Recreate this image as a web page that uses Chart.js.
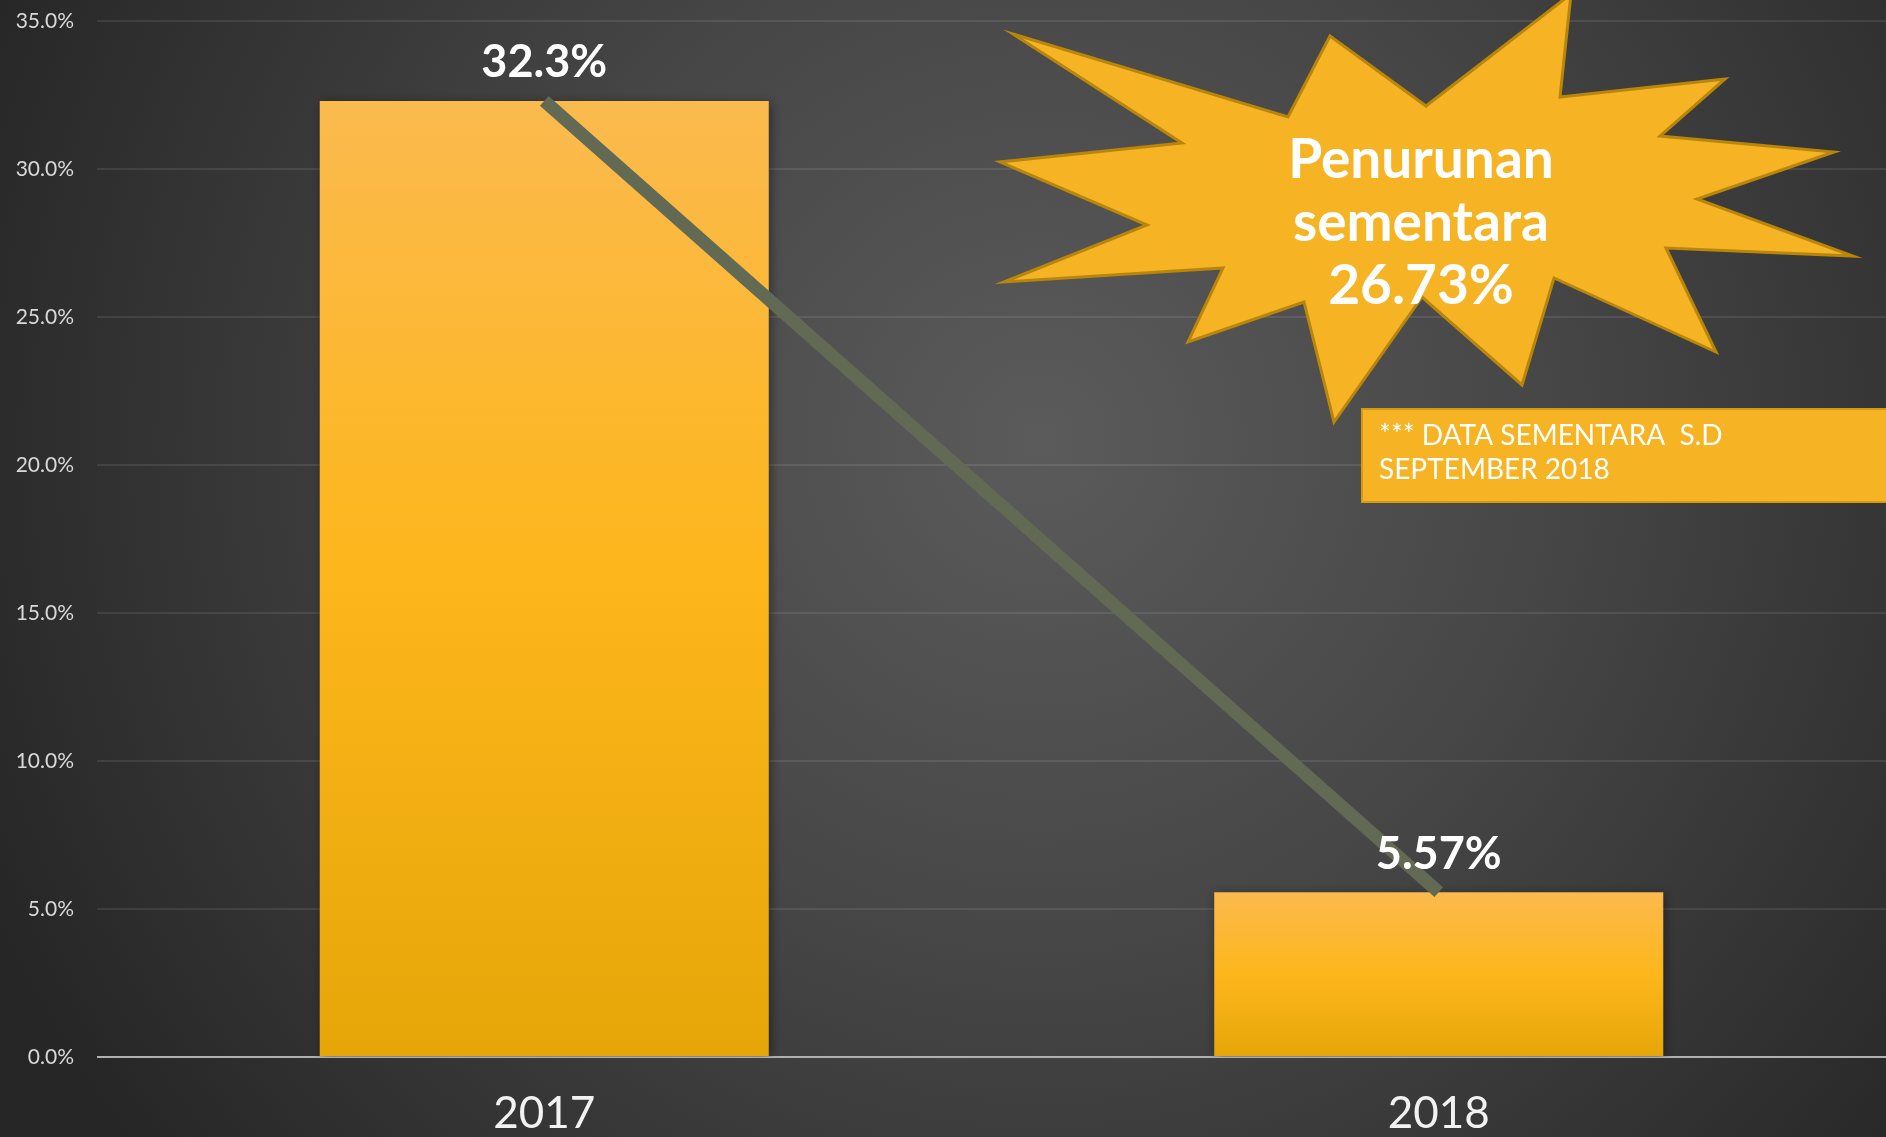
<!DOCTYPE html>
<html>
<head>
<meta charset="utf-8">
<script src="https://cdn.jsdelivr.net/npm/chart.js@4.4.1/dist/chart.umd.min.js"></script>
<style>
  html, body { margin: 0; padding: 0; background: #2b2b2b; overflow: hidden; }
  canvas { display: block; }
</style>
</head>
<body>
<canvas id="grafico" width="1886" height="1137"></canvas>
<script>
// Datos del grafico
const categorias = ["2017", "2018"];
const porcentajes = [32.3, 5.57];
const etiquetasBarra = ["32.3%", "5.57%"];
const ticksY = [0, 5, 10, 15, 20, 25, 30, 35];

// Textos de las anotaciones
const textoEstrella = ["Penurunan", "sementara", "26.73%"];
const textoNota = ["*** DATA SEMENTARA  S.D", "SEPTEMBER 2018"];

const fuente = "Lato, 'Open Sans', sans-serif";

//Fondo oscuro con degradado radial
const fondoPlugin = {
  id: "fondo",
  beforeDraw(chart) {
    const { ctx, width, height } = chart;
    const g = ctx.createRadialGradient(1040, 440, 0, 1040, 440, 1150);
    g.addColorStop(0, "#5b5b5b");
    g.addColorStop(0.45, "#464646");
    g.addColorStop(1, "#262626");
    ctx.save();
    ctx.fillStyle = g;
    ctx.fillRect(0, 0, width, height);
    ctx.restore();
  },
};

//Sombra suave de las barras
const sombraPlugin = {
  id: "sombra",
  beforeDatasetDraw(chart, args) {
    if (chart.data.datasets[args.index].type !== "bar") return;
    const ctx = chart.ctx;
    ctx.save();
    ctx.shadowColor = "rgba(0,0,0,0.4)";
    ctx.shadowBlur = 10;
    ctx.shadowOffsetX = 2;
    ctx.shadowOffsetY = 2;
  },
  afterDatasetDraw(chart, args) {
    if (chart.data.datasets[args.index].type !== "bar") return;
    chart.ctx.restore();
  },
};

//Etiquetas encima de cada barra
const etiquetasPlugin = {
  id: "etiquetas",
  afterDatasetsDraw(chart) {
    const idx = chart.data.datasets.findIndex((d) => d.type === "bar");
    const meta = chart.getDatasetMeta(idx);
    const ctx = chart.ctx;
    ctx.save();
    ctx.fillStyle = "#ffffff";
    ctx.font = "bold 45px " + fuente;
    ctx.textAlign = "center";
    ctx.textBaseline = "middle";
    meta.data.forEach((bar, i) => {
      ctx.fillText(etiquetasBarra[i], bar.x, bar.y - 38);
    });
    ctx.restore();
  },
};

//Estrella y nota
const estrella = [
  [1013, 34], [1288, 117], [1330, 36], [1426, 106], [1571, -6], [1560, 97],
  [1725, 79], [1660, 136], [1834, 152], [1697, 199], [1853, 256], [1666, 248],
  [1716, 352], [1554, 278], [1522, 385], [1422, 297], [1334, 422], [1304, 302],
  [1188, 342], [1223, 268], [1004, 282], [1147, 225], [1000, 162], [1182, 143],
];

const anotacionesPlugin = {
  id: "anotaciones",
  afterDraw(chart) {
    const ctx = chart.ctx;
    ctx.save();
    ctx.beginPath();
    estrella.forEach(([x, y], i) => (i === 0 ? ctx.moveTo(x, y) : ctx.lineTo(x, y)));
    ctx.closePath();
    ctx.fillStyle = "#F6B324";
    ctx.fill();
    ctx.lineWidth = 3;
    ctx.strokeStyle = "#B8860B";
    ctx.lineJoin = "miter";
    ctx.stroke();

    ctx.fillStyle = "#ffffff";
    ctx.font = "bold 55px " + fuente;
    ctx.textAlign = "center";
    ctx.textBaseline = "middle";
    textoEstrella.forEach((t, i) => ctx.fillText(t, 1421, 160 + i * 63));

    // caja de nota
    ctx.fillStyle = "#F6B324";
    ctx.fillRect(1362, 409, 530, 93);
    ctx.lineWidth = 2;
    ctx.strokeStyle = "#D49A12";
    ctx.strokeRect(1362, 409, 530, 93);
    ctx.fillStyle = "#ffffff";
    ctx.font = "28px " + fuente;
    ctx.textAlign = "left";
    textoNota.forEach((t, i) => ctx.fillText(t, 1379, 436 + i * 34));
    ctx.restore();
  },
};

function degradadoBarra(context) {
  const chart = context.chart;
  if (!chart.chartArea) return "#FDB71A";
  const y = chart.scales.y;
  const top = y.getPixelForValue(context.raw);
  const bottom = y.getPixelForValue(0);
  const g = chart.ctx.createLinearGradient(0, top, 0, bottom);
  g.addColorStop(0, "#FBBA4E");
  g.addColorStop(0.5, "#FDB61B");
  g.addColorStop(1, "#E6A608");
  return g;
}

const grafico = new Chart(document.getElementById("grafico"), {
  type: "bar",
  data: {
    labels: categorias,
    datasets: [
      {
        type: "line",
        data: porcentajes,
        borderColor: "#626A54",
        borderWidth: 13,
        pointRadius: 0,
        tension: 0,
        order: 0,
      },
      {
        type: "bar",
        data: porcentajes,
        backgroundColor: degradadoBarra,
        borderWidth: 0,
        categoryPercentage: 1,
        barPercentage: 0.502,
        order: 1,
      },
    ],
  },
  options: {
    responsive: false,
    animation: false,
    layout: { padding: { top: 21, right: 0, left: 0, bottom: 0 } },
    plugins: {
      legend: { display: false },
      tooltip: { enabled: false },
    },
    scales: {
      x: {
        grid: { display: false, drawTicks: false },
        border: { display: false },
        ticks: {
          color: "#f2f2f2",
          font: { family: fuente, size: 44 },
          padding: 30,
        },
        afterFit: (s) => { s.height = 80; },
      },
      y: {
        min: 0,
        max: 35,
        afterBuildTicks: (s) => { s.ticks = ticksY.map((v) => ({ value: v })); },
        grid: {
          drawTicks: true,
          tickLength: 23,
          tickColor: "rgba(0,0,0,0)",
          lineWidth: 2,
          color: (c) => (c.tick && c.tick.value === 0 ? "#b0b0b0" : "rgba(255,255,255,0.09)"),
        },
        border: { display: false },
        ticks: {
          color: "#d9d9d9",
          font: { family: fuente, size: 21 },
          padding: 0,
          callback: (v) => v.toFixed(1) + "%",
        },
        afterFit: (s) => { s.width = 97; },
      },
    },
  },
  plugins: [fondoPlugin, sombraPlugin, etiquetasPlugin, anotacionesPlugin],
});
</script>
</body>
</html>
